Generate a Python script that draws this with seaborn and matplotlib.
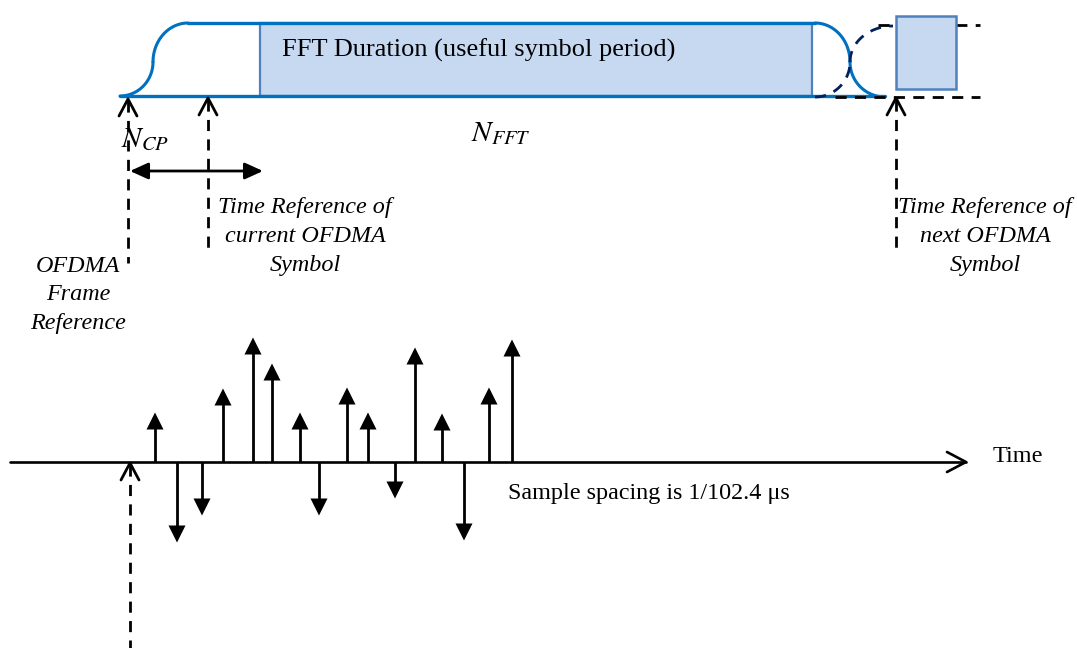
import numpy as np
import pandas as pd
import seaborn as sns
import matplotlib.pyplot as plt
from matplotlib.patches import Rectangle, FancyArrowPatch

sns.set_style("white")
plt.rcParams['font.family'] = ['Liberation Serif', 'DejaVu Serif']
plt.rcParams['mathtext.fontset'] = 'stix'
plt.rcParams['text.color'] = 'black'

# sample positions (px along the time axis) and amplitudes (px, + is up)
sample_x = [155, 177, 202, 223, 253, 272, 300, 319, 347, 368, 395, 415, 442, 464, 489, 512]
sample_amp = [49, -80, -53, 73, 124, 98, 49, -53, 74, 49, -36, 114, 48, -78, 74, 122]

fft_label = "FFT Duration (useful symbol period)"
ref_labels = ["Time Reference of\ncurrent OFDMA\nSymbol",
              "OFDMA\nFrame\nReference",
              "Time Reference of\nnext OFDMA\nSymbol"]
spacing_label = "Sample spacing is 1/102.4 \u03bcs"

BLUE = "#0070C0"
MID = "#4F81BD"
FILL = "#C6D9F1"
NAVY = "#002060"
AXIS_Y = 462

fig = plt.figure(figsize=(10.77, 6.48), dpi=100)
ax = fig.add_axes([0, 0, 1, 1])

# ---- top symbol shape ----
ax.add_patch(Rectangle((260, 23), 552, 73, facecolor=FILL, edgecolor=MID, lw=1.6, zorder=1))
ax.add_patch(Rectangle((896, 16), 60, 73, facecolor=FILL, edgecolor=MID, lw=1.8, zorder=3))

t = np.linspace(0, np.pi / 2, 40)
# left cyclic prefix ramp
ax.plot(120 + 33 * np.sin(t), 62 + 34 * np.cos(t), color=BLUE, lw=2.2, zorder=2)
ax.plot(188 - 35 * np.cos(t), 62 - 39 * np.sin(t), color=BLUE, lw=2.2, zorder=2)
ax.plot([120, 885], [96, 96], color=BLUE, lw=2.4, zorder=2)
ax.plot([188, 815], [23, 23], color=BLUE, lw=2.4, zorder=2)
# right ramp down
ax.plot(815 + 35 * np.sin(t), 62 - 39 * np.cos(t), color=BLUE, lw=2.2, zorder=2)
ax.plot(885 - 35 * np.cos(t), 62 + 35 * np.sin(t), color=BLUE, lw=2.2, zorder=2)
# next symbol ramp up (dashed)
ax.plot(815 + 35 * np.sin(t), 62 + 35 * np.cos(t), color=NAVY, lw=2, ls=(0, (4, 3)), zorder=2)
ax.plot(893 - 43 * np.cos(t), 62 - 36 * np.sin(t), color=NAVY, lw=2, ls=(0, (4, 3)), zorder=2)
ax.plot([835, 980], [97, 97], color="black", lw=2, ls=(0, (4, 3)), zorder=2)
ax.plot([878, 980], [25, 25], color="black", lw=2, ls=(0, (4, 3)), zorder=2)

ax.text(282, 50, fft_label, fontsize=19, ha="left", va="center")
ax.text(121, 147, r"$N_{CP}$", fontsize=21, ha="left", va="baseline")
ax.text(471, 141, r"$N_{FFT}$", fontsize=21, ha="left", va="baseline")


def ref_arrow(x, top, bottom):
    ax.plot([x, x], [top + 2, bottom], color="black", lw=2, ls=(0, (4, 3)), zorder=4)
    ax.plot([x - 9, x, x + 9], [top + 17, top, top + 17], color="black", lw=2, zorder=4)


ref_arrow(128, 99, 263)
ref_arrow(208, 98, 251)
ref_arrow(896, 98, 252)
ref_arrow(130, AXIS_Y + 1, 648)

ax.add_patch(FancyArrowPatch((130, 171), (263, 171),
                             arrowstyle="<|-|>,head_length=1.1,head_width=0.5",
                             mutation_scale=10, color="black", lw=2, shrinkA=0, shrinkB=0))

for (cx, cy), lab in zip([(305, 237), (78, 295), (985, 237)], ref_labels):
    ax.text(cx, cy, lab, fontsize=17.4, style="italic", ha="center", va="center", linespacing=1.5)

# ---- time axis with samples ----
ax.plot([10, 966], [AXIS_Y, AXIS_Y], color="black", lw=1.9, zorder=2)
ax.plot([947, 966, 947], [452, AXIS_Y, 472], color="black", lw=1.9, zorder=2)
ax.text(993, 457, "Time", fontsize=17.5, ha="left", va="center")
ax.text(508, 494, spacing_label, fontsize=17.4, ha="left", va="center")

df = pd.DataFrame({"x": sample_x, "amp": sample_amp})
df["dir"] = np.where(df["amp"] > 0, "up", "down")
df["tip"] = AXIS_Y - df["amp"]
df["head"] = df["tip"] + 8 * np.sign(df["amp"])
ax.vlines(df["x"], AXIS_Y, df["head"], color="black", lw=2, zorder=3)
sns.scatterplot(data=df, x="x", y="head", style="dir", markers={"up": "^", "down": "v"},
                s=150, color="black", linewidth=0, legend=False, ax=ax, zorder=4)
ax.set_xlim(0, 1077)
ax.set_ylim(648, 0)
ax.axis("off")

fig.savefig("out.png", dpi=100)
